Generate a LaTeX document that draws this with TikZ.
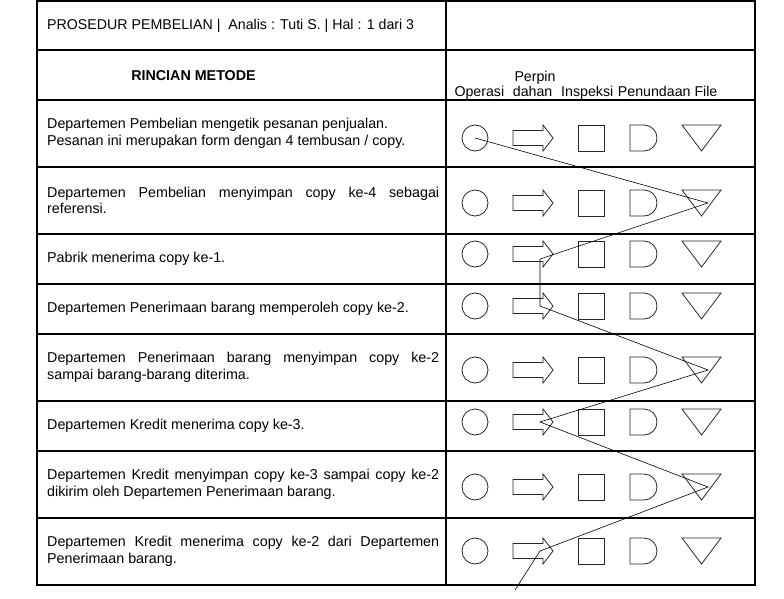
\documentclass[tikz,border=0pt]{standalone}
\usepackage{fontspec}
\setmainfont{Liberation Sans}
\usetikzlibrary{calc}
\hyphenpenalty=10000
\tolerance=9999

\begin{document}
\begin{tikzpicture}[x=1pt,y=-1pt,
garis/.style={line width=1.1pt},
simbol/.style={line width=0.8pt,draw=black!85},
alur/.style={line width=0.6pt},
teks/.style={anchor=west,text width=392pt,align=justify,inner sep=0pt,font=\fontsize{14.3}{16.5}\selectfont},
kepala/.style={anchor=base west,inner sep=0pt,font=\fontsize{14.2}{16.5}\selectfont}]
\useasboundingbox (0,0) rectangle (784,599);
% tabel
\draw[garis] (37,1) rectangle (755,585);
\draw[garis] (446,1) -- (446,585);
\foreach \y in {50,100,167,234,284,334,401,451,518}
  \draw[garis] (37,\y) -- (755,\y);
% kepala tabel
\node[kepala] (judul) at (47,30) {PROSEDUR PEMBELIAN |\ \ Analis : Tuti S. | Hal : 1 dari 3};
\node[kepala,anchor=base,font=\fontsize{14.3}{16.5}\selectfont\bfseries] (rincian) at (193.5,81) {RINCIAN METODE};
\node[kepala] (perpin) at (514.3,81.3) {Perpin};
\node[kepala] (operasi) at (454.3,97) {Operasi};
\node[kepala] (dahan) at (512.7,97) {dahan};
\node[kepala] (inspeksi) at (561,97) {Inspeksi};
\node[kepala] (penundaan) at (617.7,97) {Penundaan};
\node[kepala] (file) at (694.3,97) {File};
% rincian
\node[teks] (t1) at (47,133.5) {Departemen Pembelian mengetik pesanan penjualan.\newline Pesanan ini merupakan form dengan 4 tembusan / copy.};
\node[teks] (t2) at (47,200.5) {Departemen Pembelian menyimpan copy ke-4 sebagai\linebreak referensi.};
\node[teks] (t3) at (47,259) {Pabrik menerima copy ke-1.};
\node[teks] (t4) at (47,309) {Departemen Penerimaan barang memperoleh copy ke-2.};
\node[teks] (t5) at (47,367.5) {Departemen Penerimaan barang menyimpan copy ke-2\linebreak sampai barang-barang diterima.};
\node[teks] (t6) at (47,426) {Departemen Kredit menerima copy ke-3.};
\node[teks] (t7) at (47,484.5) {Departemen Kredit menyimpan copy ke-3 sampai copy ke-2\linebreak dikirim oleh Departemen Penerimaan barang.};
\node[teks] (t8) at (47,551.5) {Departemen Kredit menerima copy ke-2 dari Departemen\linebreak Penerimaan barang.};
% simbol tiap baris
\foreach \c [count=\i] in {138,203,254,306,370,422,487,551} {
  \draw[simbol] (475,\c) circle (13pt);
  \draw[simbol] (513,\c-7.5) -- (543,\c-7.5) -- (543,\c-13) -- (553,\c)
    -- (543,\c+13) -- (543,\c+7.5) -- (513,\c+7.5) -- cycle;
  \draw[simbol] (578,\c-13) rectangle (604,\c+13);
  \draw[simbol] (630,\c-13) -- (644,\c-13) arc[start angle=90,end angle=-90,radius=13pt]
    -- (630,\c+13) -- cycle;
  \draw[simbol] (682,\c-13) -- (721,\c-13) -- (701.5,\c+13) -- cycle;
  \coordinate (op\i) at (475,\c);
  \coordinate (ar\i) at (540,\c);
  \coordinate (fi\i) at (708,\c);
}
% alur dokumen
\coordinate (masuk) at (515,590);
\draw[alur] (op1) -- (fi2) -- ([yshift=-5pt]ar3) -- (ar4) -- (fi5) -- (ar6)
  -- (fi7) -- (ar8) -- (masuk);
\end{tikzpicture}
\end{document}
